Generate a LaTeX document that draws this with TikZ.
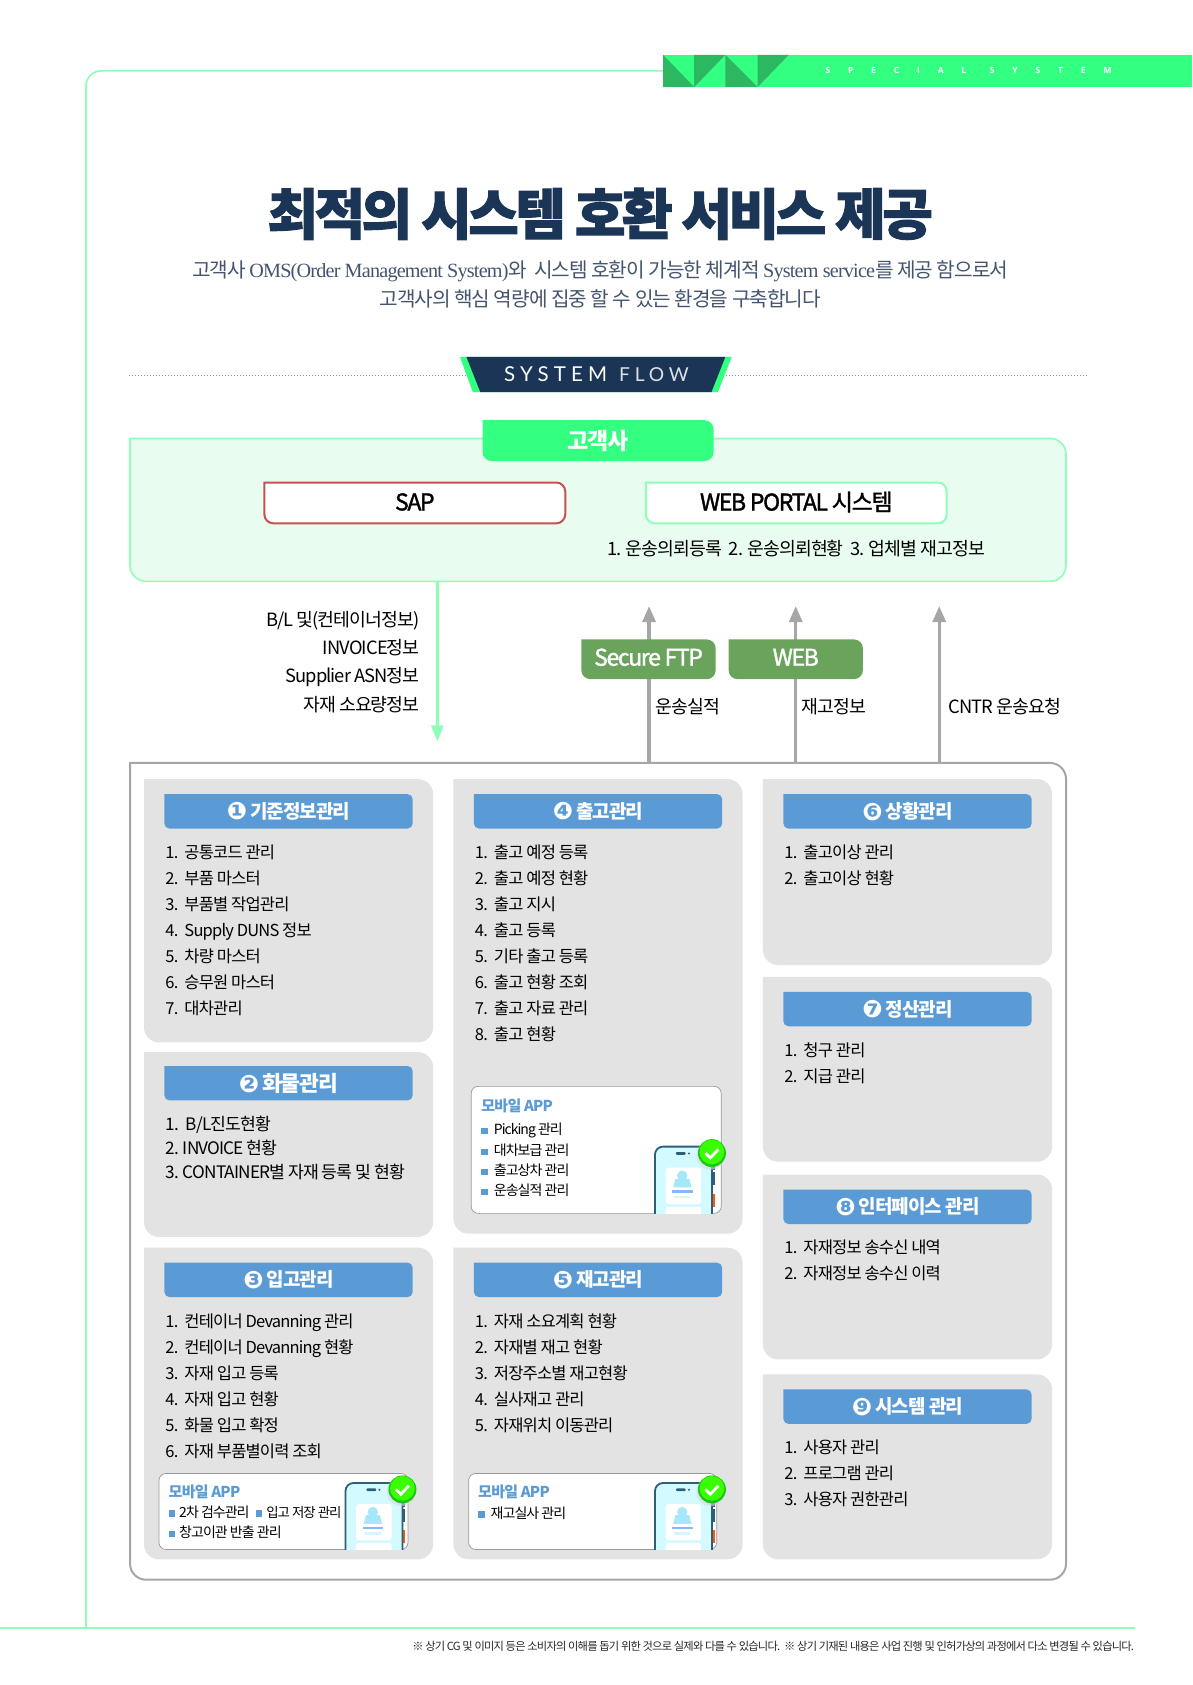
\documentclass[tikz,border=0pt]{standalone}
\usepackage{fontspec}
\usetikzlibrary{arrows.meta}
\setmainfont{Noto Sans CJK KR}
\newfontfamily\krn[LetterSpace=-5]{Noto Sans CJK KR}
\newfontfamily\krm[LetterSpace=-6,FakeBold=1.5]{Noto Sans CJK KR}
\newfontfamily\krt[LetterSpace=-6.5,FakeBold=1.8]{Noto Sans CJK KR}
\newfontfamily\krf[LetterSpace=-7]{Noto Sans CJK KR}
\newfontfamily\serlat[LetterSpace=-4]{Liberation Serif}
\newfontfamily\ssys[LetterSpace=210]{Open Sans}
\newfontfamily\lato[LetterSpace=25]{Lato}
\newfontfamily\djf{DejaVu Sans}
\definecolor{neon}{HTML}{33FF80}
\definecolor{neondark}{HTML}{2BB860}
\definecolor{pale}{HTML}{8FFFB8}
\definecolor{mint}{HTML}{E8FDF0}
\definecolor{navy}{HTML}{1B3557}
\definecolor{subt}{HTML}{44546F}
\definecolor{panelg}{HTML}{E3E3E3}
\definecolor{blueh}{HTML}{5B9BD5}
\definecolor{greeny}{HTML}{6AA35C}
\definecolor{arrowg}{HTML}{A6A6A6}
\definecolor{sapred}{HTML}{C85050}
\definecolor{phonesk}{HTML}{2D5F7A}
\definecolor{phonefl}{HTML}{D2FAFF}
\definecolor{personb}{HTML}{A5E8FA}
\newcommand\fs[2]{\fontsize{#1}{#2}\selectfont}
% box with a square top-left corner: path look, node look, name, x1,y1,x2,y2, text
\newcommand\bxn[8]{%
\path[#1] ({(#4+#6)/2},#5) -- (#6,#5) -- (#6,#7) -- (#4,#7) -- (#4,{(#5+#7)/2}) [sharp corners] -- (#4,#5) -- cycle;
\node[boxn,#2,minimum width={(#6-#4)*1.0746pt},minimum height={(#7-#5)*1.0746pt}] (#3) at ({(#4+#6)/2},{(#5+#7)/2}) {#8};}
\newcommand\li[2]{\makebox[19pt][l]{#1}#2}
\newcommand\hd[2]{\raisebox{-1.6pt}{\djf\fs{24}{24}#1}\hspace{3pt}#2}
\newcommand\bul{\tikz[baseline=-0.5pt]\fill[blueh] (0,0) rectangle (6.5pt,6.5pt);}
\newcommand\phoneicon[3]{%
\begin{scope}[shift={(#1,#2)}]
\begin{scope}
\clip (-3,-15) rectangle (70,#3);
\fill[phonesk] (53.5,13) rectangle (55.5,22);
\fill[phonesk] (53.5,24) rectangle (55.5,36);
\fill[orange!70!red] (53.5,44) rectangle (55.5,56);
\draw[phonesk,line width=1.8pt,fill=phonefl,rounded corners=8pt] (0,70) -- (0,0) -- (53,0) -- (53,70);
\fill[white,rounded corners=3pt] (10,19.5) rectangle (43,53.5);
\fill[white,rounded corners=2pt] (10,56) rectangle (43,70);
\fill[personb] (25.4,27) circle (4.8);
\fill[personb] (17,38) -- (19,30) -- (32,30) -- (34,38) -- cycle;
\fill[personb!80!blue] (16,40.5) rectangle (35,43);
\fill[personb!45!white] (18,45.5) rectangle (33,48);
\fill[phonesk,rounded corners=1pt] (19.5,5) rectangle (28.5,7.6);
\fill[phonesk] (31.6,6.3) circle (1);
\end{scope}
\fill[black!15,opacity=.6] (52,8) circle (13.5);
\fill[green!75!black!90!white] (53,6) circle (13);
\fill[green!70!lime] (53,5) circle (11.5);
\draw[white,line width=2.8pt] (47,6) -- (51.5,10.5) -- (59,2.5);
\end{scope}}
\tikzset{
 boxn/.style={inner sep=0pt,outer sep=0pt,align=center},
 panel/.style={fill=panelg,rounded corners=15pt},
 headp/.style={fill=blueh,rounded corners=5pt},
 headb/.style={text=white,font=\krn\bfseries\fs{19}{19}},
 tabp/.style={fill=greeny,rounded corners=9pt},
 tabt/.style={text=white,font=\krm\fs{23}{23},yshift=2pt},
 listn/.style={inner sep=0pt,outer sep=0pt,anchor=north west,align=left,font=\krn\fs{16.5}{26}},
 listb/.style={listn,font=\krn\fs{17.2}{24}},
 lab/.style={inner sep=0pt,outer sep=0pt,font=\krn\fs{18.3}{20},text height=13pt,text depth=4pt},
 mobt/.style={inner sep=0pt,outer sep=0pt,anchor=west,font=\krn\bfseries\fs{15}{15},text=blueh},
 mobi/.style={inner sep=0pt,outer sep=0pt,anchor=west,font=\krf\fs{14}{15}},
 mobbox/.style={boxn,fill=white,draw=black!40,line width=.7pt,rounded corners=7pt},
 garrow/.style={draw=arrowg,line width=3.2pt,-{Triangle[length=16pt,width=13pt]}},
 narrow/.style={draw=pale,line width=3.2pt,-{Triangle[length=16pt,width=12pt]}},
 bant/.style={inner sep=0pt,anchor=west,text=white,font=\ssys\bfseries\fs{8.5}{10}},
}
\begin{document}
\begin{tikzpicture}[x=1.0746pt,y=-1.0746pt]
\useasboundingbox (0,0) rectangle (1109.25,1568);
% frame
\coordinate (fc1) at (80,66);
\coordinate (fc2) at (80,1515);
\coordinate (fl) at (0,1515);
\coordinate (fr) at (1056,1515);
\node[boxn,fill=neon,minimum width=529pt,minimum height=32.2pt] (banner) at (863,66) {};
\draw[pale,line width=1.6pt,rounded corners=15pt] (banner.west) -- (fc1) -- (fc2);
\draw[pale,line width=1.6pt] (fl) -- (fr);
\fill[neondark] (617,51) -- (617,81) -- (646,81) -- cycle;
\fill[neondark] (646,51) -- (675,51) -- (646,81) -- cycle;
\fill[neondark] (675,51) -- (675,81) -- (705,81) -- cycle;
\fill[neondark] (705,51) -- (734,51) -- (705,81) -- cycle;
\node[bant] (bant1) at (768,65.5) {SPECIAL};
\node[bant] (bant2) at (921,65.5) {SYSTEM};
% title
\node[inner sep=0pt,text=navy,font=\krt\bfseries\fs{55}{60}] (title) at (558.5,199) {최적의 시스템 호환 서비스 제공};
\node[inner sep=0pt,text=subt,font=\krn\fs{20.2}{29},align=center] (subtitle) at (558.5,265) {고객사 {\serlat OMS(Order Management System)}와 \ 시스템 호환이 가능한 체계적 {\serlat System service}를 제공 함으로서\\고객사의 핵심 역량에 집중 할 수 있는 환경을 구축합니다};
% flow heading
\coordinate (dl) at (120,349.5);
\coordinate (dr) at (1011,349.5);
\draw[black!45,line width=.8pt,dash pattern=on 1pt off 2pt] (dl) -- (dr);
\fill[neon] (428,332) -- (681,332) -- (668,365) -- (440,365) -- cycle;
\fill[navy] (434,332) -- (675,332) -- (662,365) -- (447,365) -- cycle;
\node[inner sep=0pt,text=white,font=\lato\fs{20.5}{22}] (flowt) at (555,348.5) {SYSTEM\hspace{12pt}{\color{white!85!navy}\fs{19.2}{22}FLOW}};
% customer
\bxn{fill=mint,draw=pale,line width=1.6pt,rounded corners=16pt}{}{cust}{121}{408}{992}{541}{}
\bxn{fill=neon,rounded corners=9pt}{text=white,font=\krn\bfseries\fs{23}{23}}{custt}{449}{391}{664}{429}{고객사}
\bxn{fill=white,draw=sapred,line width=2pt,rounded corners=9pt}{font=\krm\fs{23}{23},yshift=1pt}{sap}{246}{449}{526}{487}{SAP}
\bxn{fill=white,draw=pale,line width=2pt,rounded corners=9pt}{font=\krm\fs{23}{23},yshift=1pt}{web}{601}{449}{881}{487}{WEB PORTAL 시스템}
\node[lab] (webl) at (741,513) {1. 운송의뢰등록 \ 2. 운송의뢰현황 \ 3. 업체별 재고정보};
% connectors
\bxn{draw=arrowg,line width=2pt,rounded corners=16pt}{}{outer}{121}{710}{992}{1470}{}
\coordinate (dn) at (407,690);
\coordinate (u1) at (604,564);
\coordinate (u2) at (740.5,564);
\coordinate (u3) at (874,564);
\draw[narrow] (cust.south -| dn) -- (dn);
\draw[garrow] (outer.north -| u1) -- (u1);
\draw[garrow] (outer.north -| u2) -- (u2);
\draw[garrow] (outer.north -| u3) -- (u3);
\bxn{tabp}{tabt}{sftp}{541}{595}{666}{632}{Secure FTP}
\bxn{tabp}{tabt}{webt}{678}{595}{803}{632}{WEB}
\node[lab,anchor=east] (l1) at (390.5,579) {B/L 및(컨테이너정보)};
\node[lab,anchor=east] (l2) at (390.5,605) {INVOICE정보};
\node[lab,anchor=east] (l3) at (390.5,631) {Supplier ASN정보};
\node[lab,anchor=east] (l4) at (390.5,658) {자재 소요량정보};
\node[lab,anchor=west] (r1) at (610,660) {운송실적};
\node[lab,anchor=west] (r2) at (746,660) {재고정보};
\node[lab,anchor=west] (r3) at (882.5,660) {CNTR 운송요청};
% panels
\bxn{panel}{}{pa}{134}{725}{403}{970}{}
\bxn{panel}{}{pb}{134}{979}{403}{1151}{}
\bxn{panel}{}{pc}{134}{1161}{403}{1451}{}
\bxn{panel}{}{pd}{422}{725}{691}{1148}{}
\bxn{panel}{}{pe}{422}{1161}{691}{1451}{}
\bxn{panel}{}{pf}{710}{725}{979}{898}{}
\bxn{panel}{}{pg}{710}{909}{979}{1081}{}
\bxn{panel}{}{ph}{710}{1093}{979}{1265}{}
\bxn{panel}{}{pi}{710}{1279}{979}{1451}{}
\bxn{headp}{headb}{ha}{153}{739}{384}{771}{\hd{❶}{기준정보관리}}
\bxn{headp}{headb}{hb}{153}{992}{384}{1024}{\hd{❷}{\fs{21.5}{21.5}화물관리}}
\bxn{headp}{headb}{hc}{153}{1175}{384}{1207}{\hd{❸}{입고관리}}
\bxn{headp}{headb}{hdd}{441}{739}{672}{771}{\hd{❹}{출고관리}}
\bxn{headp}{headb}{he}{441}{1175}{672}{1207}{\hd{❺}{재고관리}}
\bxn{headp}{headb}{hf}{729}{739}{960}{771}{\hd{❻}{상황관리}}
\bxn{headp}{headb}{hg}{729}{923}{960}{955}{\hd{❼}{정산관리}}
\bxn{headp}{headb}{hh}{729}{1107}{960}{1139}{\hd{❽}{인터페이스 관리}}
\bxn{headp}{headb}{hi}{729}{1293}{960}{1325}{\hd{❾}{시스템 관리}}
% lists
\node[listn] (la) at (154,786) {\li{1.}{공통코드 관리}\\\li{2.}{부품 마스터}\\\li{3.}{부품별 작업관리}\\\li{4.}{Supply DUNS 정보}\\\li{5.}{차량 마스터}\\\li{6.}{승무원 마스터}\\\li{7.}{대차관리}};
\node[listb] (lb) at (154,1038.5) {1. \,B/L진도현황\\2. INVOICE 현황\\3. CONTAINER별 자재 등록 및 현황};
\node[listn] (lc) at (154,1222.5) {\li{1.}{컨테이너 Devanning 관리}\\\li{2.}{컨테이너 Devanning 현황}\\\li{3.}{자재 입고 등록}\\\li{4.}{자재 입고 현황}\\\li{5.}{화물 입고 확정}\\\li{6.}{자재 부품별이력 조회}};
\node[listn] (ld) at (442,786) {\li{1.}{출고 예정 등록}\\\li{2.}{출고 예정 현황}\\\li{3.}{출고 지시}\\\li{4.}{출고 등록}\\\li{5.}{기타 출고 등록}\\\li{6.}{출고 현황 조회}\\\li{7.}{출고 자료 관리}\\\li{8.}{출고 현황}};
\node[listn] (le) at (442,1222.5) {\li{1.}{자재 소요계획 현황}\\\li{2.}{자재별 재고 현황}\\\li{3.}{저장주소별 재고현황}\\\li{4.}{실사재고 관리}\\\li{5.}{자재위치 이동관리}};
\node[listn] (lf) at (730,786) {\li{1.}{출고이상 관리}\\\li{2.}{출고이상 현황}};
\node[listn] (lg) at (730,970) {\li{1.}{청구 관리}\\\li{2.}{지급 관리}};
\node[listn] (lh) at (730,1154) {\li{1.}{자재정보 송수신 내역}\\\li{2.}{자재정보 송수신 이력}};
\node[listn] (li) at (730,1340) {\li{1.}{사용자 관리}\\\li{2.}{프로그램 관리}\\\li{3.}{사용자 권한관리}};
% mobile D
\node[mobbox,minimum width=250pt,minimum height=127pt] (md) at (554.8,1070) {};
\phoneicon{609.5}{1067}{62}
\node[mobt] (mdt) at (448,1029) {모바일 APP};
\node[mobi] (md1) at (448,1052) {\bul\hspace{6pt}Picking 관리};
\node[mobi] (md2) at (448,1070.5) {\bul\hspace{6pt}대차보급 관리};
\node[mobi] (md3) at (448,1089) {\bul\hspace{6pt}출고상차 관리};
\node[mobi] (md4) at (448,1108) {\bul\hspace{6pt}운송실적 관리};
% mobile C
\node[mobbox,minimum width=249pt,minimum height=76pt] (mc) at (263.8,1406.5) {};
\phoneicon{321.5}{1380}{62}
\node[mobt] (mct) at (157,1388) {모바일 APP};
\node[mobi] (mc1) at (157,1407) {\bul\hspace{4pt}2차 검수관리};
\node[mobi,font=\krf\fs{13.4}{15}] (mc2) at (238,1407) {\bul\hspace{4pt}입고 저장 관리};
\node[mobi] (mc3) at (157,1426) {\bul\hspace{4pt}창고이관 반출 관리};
% mobile E
\node[mobbox,minimum width=248pt,minimum height=76pt] (me) at (551.5,1406.5) {};
\phoneicon{609.5}{1380}{62}
\node[mobt] (met) at (445,1388) {모바일 APP};
\node[mobi] (me1) at (445,1408) {\bul\hspace{6pt}재고실사 관리};
% footer
\node[inner sep=0pt,anchor=east,font=\krf\fs{11.25}{12},text=black!85] (foot) at (1055.5,1532) {※ 상기 CG 및 이미지 등은 소비자의 이해를 돕기 위한 것으로 실제와 다를 수 있습니다. \ ※ 상기 기재된 내용은 사업 진행 및 인허가상의 과정에서 다소 변경될 수 있습니다.};
\end{tikzpicture}
\end{document}
